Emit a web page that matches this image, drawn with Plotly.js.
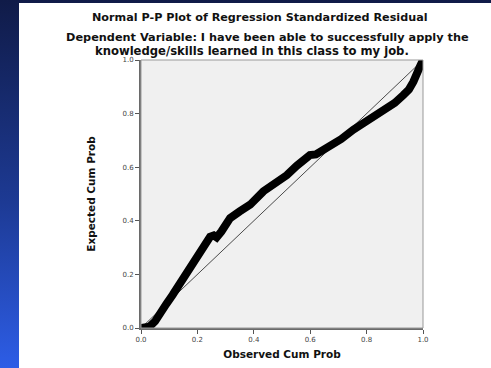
<!DOCTYPE html>
<html>
<head>
<meta charset="utf-8">
<script src="https://cdn.plot.ly/plotly-3.0.1.min.js"></script>
<style>
  html, body { margin: 0; padding: 0; width: 491px; height: 368px; overflow: hidden;
    background: linear-gradient(to bottom, #101b48 0%, #1d3a94 55%, #2d5de6 100%); }
  #chart { position: absolute; left: 19px; top: 3px; width: 472px; height: 365px; background: #ffffff; }
</style>
</head>
<body>
<div id="chart"></div>
<script>
// Observed cumulative probability (x) vs expected cumulative probability (y)
const observedCum = [0, 0.015, 0.03, 0.05, 0.065, 0.09, 0.112, 0.135, 0.16, 0.186, 0.207, 0.225, 0.245, 0.258, 0.268, 0.285, 0.316, 0.35, 0.387, 0.434, 0.48, 0.517, 0.552, 0.58, 0.599, 0.62, 0.67, 0.71, 0.753, 0.8, 0.84, 0.871, 0.9, 0.93, 0.95, 0.966, 0.98, 0.989, 1.0];
const expectedCum = [0, 0.002, 0.005, 0.025, 0.055, 0.09, 0.123, 0.16, 0.198, 0.24, 0.272, 0.3, 0.34, 0.345, 0.338, 0.36, 0.41, 0.435, 0.46, 0.51, 0.54, 0.57, 0.605, 0.625, 0.645, 0.648, 0.677, 0.705, 0.74, 0.77, 0.795, 0.82, 0.84, 0.869, 0.89, 0.919, 0.945, 0.975, 1.0];
const refX = [0, 1];
const refY = [0, 1];
const tickVals = [0, 0.2, 0.4, 0.6, 0.8, 1.0];
const tickText = ['0.0', '0.2', '0.4', '0.6', '0.8', '1.0'];

const font = 'DejaVu Sans, Verdana, sans-serif';

const traces = [
  { x: refX, y: refY, mode: 'lines', line: { color: '#4a4a4a', width: 1 }, hoverinfo: 'skip', showlegend: false },
  { x: observedCum, y: expectedCum, mode: 'lines', line: { color: '#000000', width: 8 }, showlegend: false }
];

const axisCommon = {
  range: [0, 1], tickvals: tickVals, ticktext: tickText,
  showgrid: false, zeroline: false,
  showline: true, linecolor: '#6a6a6a', linewidth: 2,
  ticks: 'outside', ticklen: 4, tickwidth: 1, tickcolor: '#555',
  tickfont: { family: font, size: 7, color: '#444' }
};

const layout = {
  width: 472, height: 365,
  margin: { l: 122, r: 68, t: 57, b: 40 },
  paper_bgcolor: '#ffffff', plot_bgcolor: '#f0f0f0',
  xaxis: Object.assign({}, axisCommon, {
    title: { text: '<b>Observed Cum Prob</b>', font: { family: font, size: 10.5, color: '#111' }, standoff: 7 }
  }),
  yaxis: Object.assign({}, axisCommon, {
    title: { text: '<b>Expected Cum Prob</b>', font: { family: font, size: 10.5, color: '#111' }, standoff: 25 }
  }),
  shapes: [
    { type: 'rect', xref: 'paper', yref: 'paper', x0: 0, x1: 1, y0: 0, y1: 1, line: { color: '#999', width: 1 } }
  ],
  annotations: [
    { text: '<b>Normal P-P Plot of Regression Standardized Residual</b>', xref: 'paper', yref: 'paper',
      x: 0.422, y: 1.160, xanchor: 'center', yanchor: 'middle', showarrow: false,
      font: { family: font, size: 11.2, color: '#111' } },
    { text: '<b>Dependent Variable: I have been able to successfully apply the</b>', xref: 'paper', yref: 'paper',
      x: 0.447, y: 1.084, xanchor: 'center', yanchor: 'middle', showarrow: false,
      font: { family: font, size: 11.3, color: '#111' } },
    { text: '<b>knowledge/skills learned in this class to my job.</b>', xref: 'paper', yref: 'paper',
      x: 0.394, y: 1.034, xanchor: 'center', yanchor: 'middle', showarrow: false,
      font: { family: font, size: 11.6, color: '#111' } }
  ]
};

Plotly.newPlot('chart', traces, layout, { displayModeBar: false, staticPlot: true });
</script>
</body>
</html>
